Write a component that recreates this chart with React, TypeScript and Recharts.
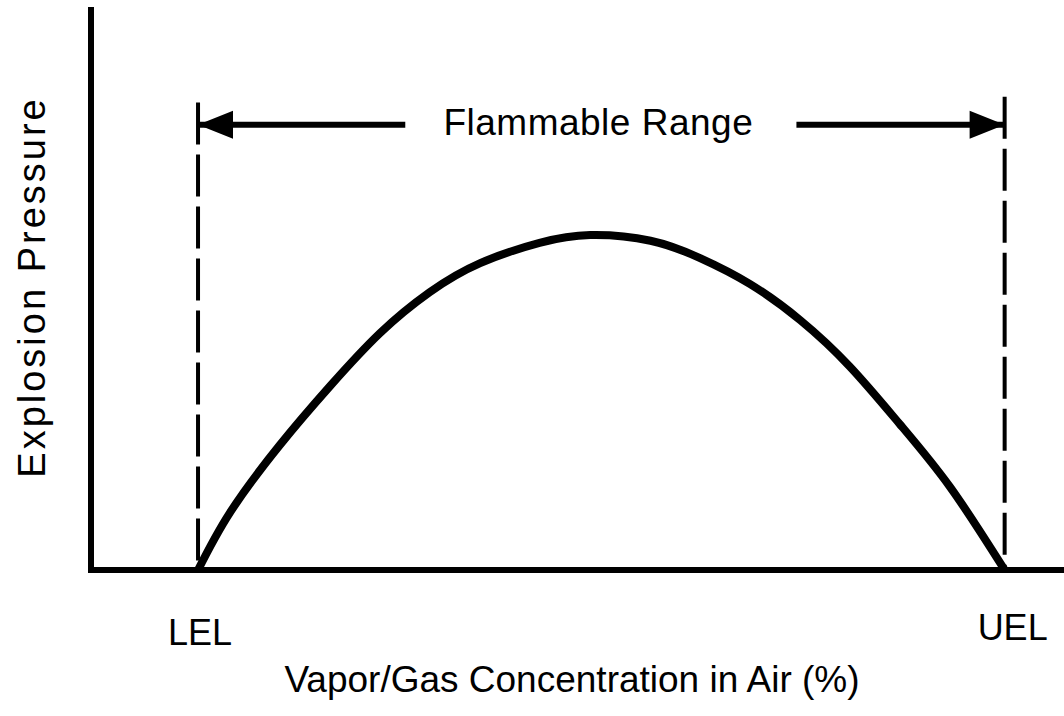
import { ComposedChart, Line, XAxis, YAxis, ReferenceLine } from "recharts";

// concentration in relative % units across the plot (0..100), pressure relative (0..100)
const concentration = [11.0, 14.3, 19.4, 24.6, 29.7, 34.8, 40.0, 46.1, 51.3, 57.5, 62.6, 67.7, 72.9, 78.0, 83.1, 88.3, 93.9];
const pressure = [0, 10.3, 22.3, 32.9, 42.3, 49.6, 54.8, 58.4, 59.8, 58.8, 55.7, 51.1, 44.6, 36.3, 26.1, 14.8, 0];

const LEL = 11.0;
const UEL = 93.9;
const limitTop = 83.5;
const arrowLevel = 79.5;
const arrowLeftEnd = 32.3;
const arrowRightStart = 72.5;

const rangeLabel = "Flammable Range";
const lelLabel = "LEL";
const uelLabel = "UEL";
const xTitle = "Vapor/Gas Concentration in Air (%)";
const yTitle = "Explosion Pressure";

const data = concentration.map((x, i) => ({ x, p: pressure[i] }));

const FONT = "'Liberation Sans', Arial, Helvetica, sans-serif";

function arrow(head: "left" | "right") {
  return (props: any) => {
    const { x1, y1, x2 } = props;
    const lo = Math.min(x1, x2);
    const hi = Math.max(x1, x2);
    const tip = head === "left" ? lo : hi;
    const base = head === "left" ? tip + 35 : tip - 35;
    return (
      <g>
        <line x1={lo} y1={y1} x2={hi} y2={y1} stroke="#000" strokeWidth={6} />
        <polygon points={`${tip},${y1} ${base},${y1 - 14} ${base},${y1 + 14}`} fill="#000" />
      </g>
    );
  };
}

function limitLabel(text: string, dx: number, dy: number) {
  return (props: any) => {
    const vb = props.viewBox || {};
    return (
      <text
        x={vb.x + dx}
        y={vb.y + vb.height + dy}
        textAnchor="middle"
        fontFamily={FONT}
        fontSize={36}
        fill="#000"
      >
        {text}
      </text>
    );
  };
}

export default function App() {
  return (
    <div style={{ position: "absolute", left: 0, top: 0, background: "#fff" }}>
      <ComposedChart
        width={1064}
        height={716}
        data={data}
        margin={{ top: 10, right: 0, left: 0, bottom: 145 }}
      >
        <XAxis
          type="number"
          dataKey="x"
          domain={[0, 100]}
          height={1}
          tick={false}
          tickLine={false}
          axisLine={{ stroke: "#000", strokeWidth: 6 }}
          label={{
            content: () => (
              <text x={572} y={692} textAnchor="middle" fontFamily={FONT} fontSize={37} fill="#000">
                {xTitle}
              </text>
            ),
          }}
        />
        <YAxis
          type="number"
          domain={[0, 100]}
          width={91}
          tick={false}
          tickLine={false}
          axisLine={{ stroke: "#000", strokeWidth: 6, strokeLinecap: "square" }}
          label={{
            content: () => (
              <text
                x={45}
                y={287}
                transform="rotate(-90, 45, 287)"
                textAnchor="middle"
                fontFamily={FONT}
                fontSize={38}
                letterSpacing={3}
                fill="#000"
              >
                {yTitle}
              </text>
            ),
          }}
        />
        <ReferenceLine
          segment={[{ x: LEL, y: limitTop }, { x: LEL, y: 0 }]}
          stroke="#000"
          strokeWidth={4}
          strokeDasharray="42 10"
          label={{ content: limitLabel(lelLabel, 2, 75) }}
        />
        <ReferenceLine
          segment={[{ x: UEL, y: limitTop + 1 }, { x: UEL, y: 0 }]}
          stroke="#000"
          strokeWidth={4}
          strokeDasharray="42 10"
          label={{ content: limitLabel(uelLabel, 8, 70) }}
        />
        <ReferenceLine
          segment={[{ x: LEL, y: arrowLevel }, { x: arrowLeftEnd, y: arrowLevel }]}
          shape={arrow("left")}
        />
        <ReferenceLine
          segment={[{ x: arrowRightStart, y: arrowLevel }, { x: UEL, y: arrowLevel }]}
          shape={arrow("right")}
        />
        <ReferenceLine
          segment={[{ x: LEL, y: arrowLevel }, { x: UEL, y: arrowLevel }]}
          stroke="none"
          label={{
            content: (props: any) => {
              const vb = props.viewBox || {};
              return (
                <text
                  x={vb.x + vb.width / 2 - 3}
                  y={vb.y + 10}
                  textAnchor="middle"
                  fontFamily={FONT}
                  fontSize={37}
                  letterSpacing={0.5}
                  fill="#000"
                >
                  {rangeLabel}
                </text>
              );
            },
          }}
        />
        <Line
          type="natural"
          dataKey="p"
          stroke="#000"
          strokeWidth={8}
          dot={false}
          activeDot={false}
          isAnimationActive={false}
        />
      </ComposedChart>
    </div>
  );
}
